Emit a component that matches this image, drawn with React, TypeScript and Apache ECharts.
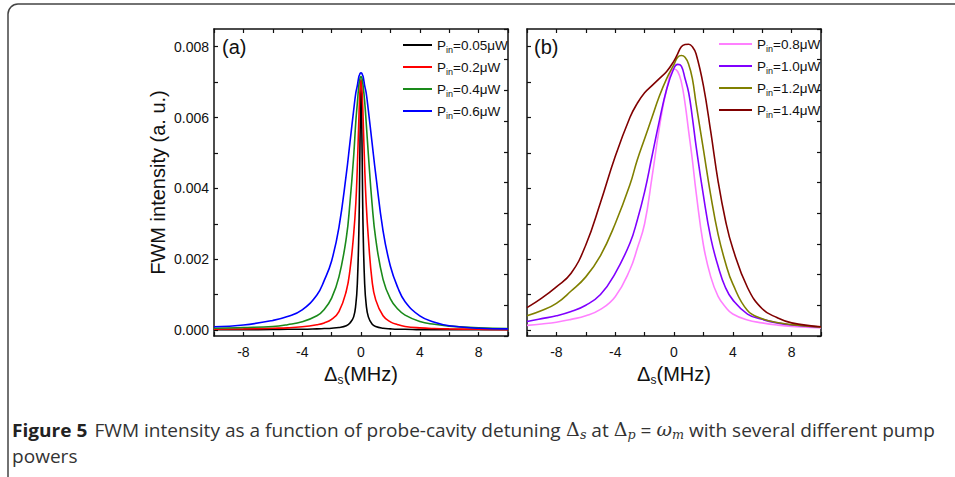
import React, { useEffect, useRef } from "react";
import * as echarts from "echarts";

// ---- Panel (a) data ----
const xA = [-10, -8, -6, -5, -4, -3, -2.5, -2, -1.5, -1, -0.75, -0.5, -0.35, -0.25, -0.15, -0.1, -0.05, 0, 0.05, 0.1, 0.15, 0.25, 0.35, 0.5, 0.75, 1, 1.5, 2, 2.5, 3, 4, 5, 6, 8, 10];
const yA005 = [0.00001, 0.00001, 0.000015, 0.00002, 0.00002, 0.00003, 0.00004, 0.00005, 0.00007, 0.00012, 0.0002, 0.00037, 0.00073, 0.0013, 0.0027, 0.0041, 0.0059, 0.0069, 0.0059, 0.0041, 0.0027, 0.0013, 0.00073, 0.00037, 0.00017, 0.0001, 0.00005, 0.00003, 0.00002, 0.00002, 0.00001, 0.00001, 0.00001, 0.00001, 0.00001];
const yA02 = [0.00002, 0.00003, 0.00005, 0.00006, 0.00009, 0.00015, 0.0002, 0.0003, 0.00052, 0.0011, 0.0017, 0.0027, 0.0036, 0.0046, 0.0059, 0.0065, 0.0069, 0.00707, 0.0069, 0.0065, 0.0059, 0.0046, 0.0036, 0.0026, 0.0014, 0.00085, 0.0004, 0.00023, 0.00015, 0.0001, 0.00006, 0.00004, 0.00003, 0.00002, 0.00001];
const yA04 = [0.00005, 0.00007, 0.0001, 0.00015, 0.00023, 0.0004, 0.00058, 0.0009, 0.0015, 0.0026, 0.0036, 0.0049, 0.0059, 0.0064, 0.0069, 0.00703, 0.00713, 0.00716, 0.00713, 0.00703, 0.00688, 0.00645, 0.00588, 0.00496, 0.00358, 0.00258, 0.00143, 0.00088, 0.00059, 0.00042, 0.00024, 0.00016, 0.00011, 0.00006, 0.00004];
const yA06 = [0.00009, 0.00014, 0.00027, 0.00038, 0.00057, 0.00099, 0.0014, 0.00195, 0.0029, 0.0044, 0.0053, 0.0062, 0.0067, 0.0069, 0.00715, 0.0072, 0.00725, 0.00726, 0.00725, 0.0072, 0.00715, 0.0069, 0.0067, 0.0062, 0.0053, 0.0044, 0.0028, 0.0018, 0.0012, 0.0008, 0.0004, 0.00022, 0.00012, 0.00005, 0.00003];

// ---- Panel (b) data ----
const xB = [-10, -9, -8, -7, -6, -5, -4, -3, -2.5, -2, -1.5, -1, -0.5, 0, 0.25, 0.5, 0.75, 1, 1.25, 1.5, 2, 2.5, 3, 3.5, 4, 5, 6, 7, 8, 10];
const yB08 = [0.00013, 0.00017, 0.00022, 0.0003, 0.0004, 0.00058, 0.00094, 0.0017, 0.0023, 0.003, 0.0043, 0.0057, 0.0068, 0.00737, 0.0073, 0.007, 0.0064, 0.0056, 0.0048, 0.0039, 0.0024, 0.0015, 0.00095, 0.00065, 0.00045, 0.00028, 0.0002, 0.00014, 0.0001, 0.00006];
const yB10 = [0.00024, 0.00032, 0.0004, 0.00052, 0.0007, 0.001, 0.0016, 0.00245, 0.0031, 0.0039, 0.0049, 0.0059, 0.0068, 0.0074, 0.0075, 0.00745, 0.0071, 0.0067, 0.006, 0.0052, 0.0038, 0.0026, 0.0018, 0.0012, 0.00085, 0.00045, 0.0003, 0.0002, 0.00014, 0.00008];
const yB12 = [0.0004, 0.00055, 0.00075, 0.0011, 0.0015, 0.0021, 0.003, 0.0041, 0.0048, 0.0054, 0.006, 0.0066, 0.0071, 0.0075, 0.0077, 0.00775, 0.0077, 0.0075, 0.0071, 0.0064, 0.0051, 0.0038, 0.0027, 0.0019, 0.0013, 0.00055, 0.00032, 0.00021, 0.00015, 0.00008];
const yB14 = [0.00063, 0.0009, 0.00122, 0.0016, 0.0024, 0.0036, 0.0049, 0.006, 0.0064, 0.0067, 0.0069, 0.0071, 0.0073, 0.0076, 0.0078, 0.008, 0.00806, 0.00807, 0.008, 0.0078, 0.0069, 0.0056, 0.0042, 0.0031, 0.0023, 0.0012, 0.0006, 0.00035, 0.0002, 0.00009];

const namesA = ["Pin=0.05μW", "Pin=0.2μW", "Pin=0.4μW", "Pin=0.6μW"];
const namesB = ["Pin=0.8μW", "Pin=1.0μW", "Pin=1.2μW", "Pin=1.4μW"];
const colorsA = ["#000000", "#ff0000", "#1a8a1a", "#0000ff"];
const colorsB = ["#ff80ff", "#8000ff", "#808000", "#800000"];
const seriesA = [yA005, yA02, yA04, yA06];
const seriesB = [yB08, yB10, yB12, yB14];

const yMajor = [0, 0.002, 0.004, 0.006, 0.008];
const yTicks = [0, 0.001, 0.002, 0.003, 0.004, 0.005, 0.006, 0.007, 0.008];

const FONT = "Liberation Sans, Arial, sans-serif";

export default function App() {
  const ref = useRef<HTMLDivElement>(null);
  useEffect(() => {
    const chart = echarts.init(ref.current!, null, { renderer: "svg" });
    const frame = { show: true, onZero: false, lineStyle: { color: "#111", width: 1.5 } };
    const tick = { inside: true, length: 4, lineStyle: { color: "#111", width: 1.2 } };
    const xName = {
      name: "{d|Δ}{s|s}{d|(MHz)}",
      nameLocation: "middle" as const,
      nameGap: 19,
      nameTextStyle: {
        rich: {
          d: { fontFamily: FONT, fontSize: 20, color: "#111", lineHeight: 24 },
          s: { fontFamily: FONT, fontSize: 12, color: "#111", lineHeight: 13, verticalAlign: "bottom" },
        },
      },
    };
    const bottomX = (gridIndex: number) => ({
      type: "value" as const,
      gridIndex,
      min: -10,
      max: 10,
      interval: 2,
      position: "bottom" as const,
      axisLine: frame,
      axisTick: tick,
      axisLabel: {
        margin: 9,
        fontFamily: FONT,
        fontSize: 14,
        color: "#111",
        formatter: (v: number) => (v % 4 === 0 && Math.abs(v) < 10 ? String(v) : ""),
      },
      splitLine: { show: false },
      ...xName,
    });
    const topX = (gridIndex: number) => ({
      type: "value" as const,
      gridIndex,
      min: -10,
      max: 10,
      interval: 2,
      position: "top" as const,
      axisLine: frame,
      axisTick: tick,
      axisLabel: { show: false },
      splitLine: { show: false },
    });
    const leftY = (gridIndex: number, labels: boolean) => ({
      type: "value" as const,
      gridIndex,
      min: -0.00017,
      max: 0.0085,
      position: "left" as const,
      axisLine: frame,
      axisTick: { ...tick, customValues: yTicks },
      axisLabel: {
        show: labels,
        customValues: yMajor,
        margin: 5,
        fontFamily: FONT,
        fontSize: 14,
        color: "#111",
        formatter: (v: number) => v.toFixed(3),
      },
      splitLine: { show: false },
      ...(labels
        ? {
            name: "FWM intensity (a. u.)",
            nameLocation: "middle" as const,
            nameGap: 46,
            nameTextStyle: { fontFamily: FONT, fontSize: 20, color: "#111" },
          }
        : {}),
    });
    const rightY = (gridIndex: number) => ({
      type: "value" as const,
      gridIndex,
      min: 0,
      max: 10,
      interval: 1,
      position: "right" as const,
      axisLine: frame,
      axisTick: tick,
      axisLabel: { show: false },
      splitLine: { show: false },
    });

    const mk = (names: string[], colors: string[], data: number[][], xs: number[], g: number) =>
      names.map((n, i) => ({
        type: "line" as const,
        name: n,
        xAxisIndex: g * 2,
        yAxisIndex: g * 2,
        data: xs.map((x, j) => [x, data[i][j]]),
        smooth: 0.45,
        symbol: "none",
        lineStyle: { color: colors[i], width: 1.6 },
        itemStyle: { color: colors[i] },
        z: 2 + i,
      }));

    const legendRich = {
      p: { fontFamily: FONT, fontSize: 13.5, color: "#111", lineHeight: 18 },
      s: { fontFamily: FONT, fontSize: 9, color: "#111", lineHeight: 10, verticalAlign: "bottom" },
    };
    const legendFmt = (name: string) => `{p|P}{s|in}{p|${name.slice(3)}}`;
    const legendBase = {
      orient: "vertical" as const,
      icon: "rect",
      itemHeight: 2,
      itemGap: 6,
      formatter: legendFmt,
      textStyle: { rich: legendRich },
      selectedMode: false,
    };

    chart.setOption({
      animation: false,
      grid: [
        { left: 214, top: 29, width: 294, height: 307 },
        { left: 527, top: 29, width: 294, height: 307 },
      ],
      xAxis: [bottomX(0), topX(0), bottomX(1), topX(1)],
      yAxis: [leftY(0, true), rightY(0), leftY(1, false), rightY(1)],
      legend: [
        { ...legendBase, data: namesA, left: 398, top: 33, itemWidth: 29 },
        { ...legendBase, data: namesB, left: 714, top: 32, itemWidth: 33 },
      ],
      graphic: [
        {
          type: "rect",
          shape: { x: 8, y: 4, width: 1000, height: 600, r: 10 },
          style: { fill: "none", stroke: "#444", lineWidth: 1.5 },
          silent: true,
        },
        {
          type: "text",
          x: 222,
          y: 47,
          style: { text: "(a)", font: `20px ${FONT}`, fill: "#111", verticalAlign: "middle" },
        },
        {
          type: "text",
          x: 534,
          y: 47,
          style: { text: "(b)", font: `20px ${FONT}`, fill: "#111", verticalAlign: "middle" },
        },
        {
          type: "text",
          x: 12,
          y: 430,
          scaleX: 1.06,
          style: {
            text:
              "{b|Figure 5}  {t|FWM intensity as a function of probe-cavity detuning }{m|Δ}{ms|s}{t| at }{m|Δ}{ms|p}{t| = }{mi|ω}{ms|m}{t| with several different pump}",
            verticalAlign: "middle",
            rich: {
              b: { fontFamily: "Open Sans", fontWeight: "bold", fontSize: 18, fill: "#222", lineHeight: 22 },
              t: { fontFamily: "Open Sans", fontSize: 18, fill: "#333", lineHeight: 22 },
              m: { fontFamily: "DejaVu Serif", fontSize: 18, fill: "#333", lineHeight: 22 },
              mi: { fontFamily: "DejaVu Serif", fontStyle: "italic", fontSize: 18, fill: "#333", lineHeight: 22 },
              ms: { fontFamily: "DejaVu Serif", fontStyle: "italic", fontSize: 12, fill: "#333", lineHeight: 13, verticalAlign: "bottom" },
            },
          },
        },
        {
          type: "text",
          x: 12,
          y: 456,
          scaleX: 1.06,
          style: { text: "powers", font: `18px Open Sans`, fill: "#333", verticalAlign: "middle" },
        },
      ],
      series: [...mk(namesA, colorsA, seriesA, xA, 0), ...mk(namesB, colorsB, seriesB, xB, 1)],
    });
    return () => chart.dispose();
  }, []);
  return (
    <div
      ref={ref}
      style={{ position: "fixed", left: 0, top: 0, width: 955, height: 477, background: "#fff" }}
    />
  );
}
